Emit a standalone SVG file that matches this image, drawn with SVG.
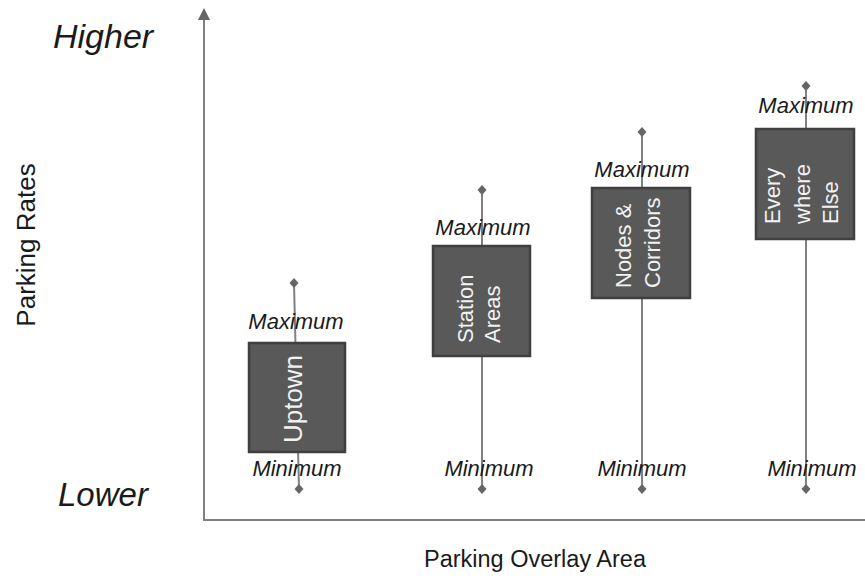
<svg xmlns="http://www.w3.org/2000/svg" width="865" height="576" viewBox="0 0 865 576">
<style>
text{font-family:"Liberation Sans",Arial,sans-serif;fill:#1a1a1a}
.big{font-size:34px;font-style:italic}
.lab{font-size:22px;font-style:italic;text-anchor:middle}
.axis{font-size:23.5px;text-anchor:middle}
.box{fill:#595959;stroke:#3f3f3f;stroke-width:2.5}
.bt{font-size:22px;fill:#f2f2f2}
.rng{stroke:#808080;stroke-width:2;fill:none}
.ax{stroke:#808080;stroke-width:2;fill:none}
.dia{fill:#666}
</style>
<rect width="865" height="576" fill="#fff"/>
<g id="axes">
<path class="ax" d="M204,520 L204,18"/>
<path d="M204,8 L210,20 L198,20 Z" fill="#666"/>
<path class="ax" d="M203,520 L865,520"/>
</g>
<text class="big" x="53" y="48">Higher</text>
<text class="big" style="font-size:33px" x="58" y="506">Lower</text>
<text class="axis" style="font-size:26px" transform="translate(35,245) rotate(-90)">Parking Rates</text>
<text class="axis" x="535" y="567">Parking Overlay Area</text>
<g id="connectors">
<path class="rng" d="M294,283 L299,489"/>
<path class="rng" d="M482,190 L482,489"/>
<path class="rng" d="M642,132 L642,489"/>
<path class="rng" d="M806,86 L806,489"/>
</g>
<g id="uptown">
<rect class="box" x="249" y="343" width="96" height="109"/>
<text class="bt" style="font-size:26px" text-anchor="middle" transform="translate(302,399) rotate(-90)">Uptown</text>
<path class="dia" d="M294,278 L298.5,283 L294,288 L289.5,283 Z"/>
<path class="dia" d="M299,484 L303.5,489 L299,494 L294.5,489 Z"/>
<text class="lab" x="296" y="329">Maximum</text>
<text class="lab" x="297" y="476">Minimum</text>
</g>
<g id="station">
<rect class="box" x="433" y="246" width="97" height="110"/>
<text class="bt" transform="translate(473,343) rotate(-90)">Station</text>
<text class="bt" transform="translate(500,343) rotate(-90)">Areas</text>
<path class="dia" d="M482,185 L486.5,190 L482,195 L477.5,190 Z"/>
<path class="dia" d="M482,484 L486.5,489 L482,494 L477.5,489 Z"/>
<text class="lab" x="483" y="235">Maximum</text>
<text class="lab" x="489" y="476">Minimum</text>
</g>
<g id="nodes">
<rect class="box" x="592" y="188" width="98" height="110"/>
<text class="bt" transform="translate(631,288) rotate(-90)">Nodes &amp;</text>
<text class="bt" transform="translate(660,288) rotate(-90)">Corridors</text>
<path class="dia" d="M642,127 L646.5,132 L642,137 L637.5,132 Z"/>
<path class="dia" d="M642,484 L646.5,489 L642,494 L637.5,489 Z"/>
<text class="lab" x="642" y="177">Maximum</text>
<text class="lab" x="642" y="476">Minimum</text>
</g>
<g id="everywhere">
<rect class="box" x="756" y="129" width="98" height="110"/>
<text class="bt" transform="translate(780,224) rotate(-90)">Every</text>
<text class="bt" transform="translate(810,224) rotate(-90)">where</text>
<text class="bt" transform="translate(838,224) rotate(-90)">Else</text>
<path class="dia" d="M806,81 L810.5,86 L806,91 L801.5,86 Z"/>
<path class="dia" d="M806,484 L810.5,489 L806,494 L801.5,489 Z"/>
<text class="lab" x="806" y="113">Maximum</text>
<text class="lab" x="812" y="476">Minimum</text>
</g>
</svg>
